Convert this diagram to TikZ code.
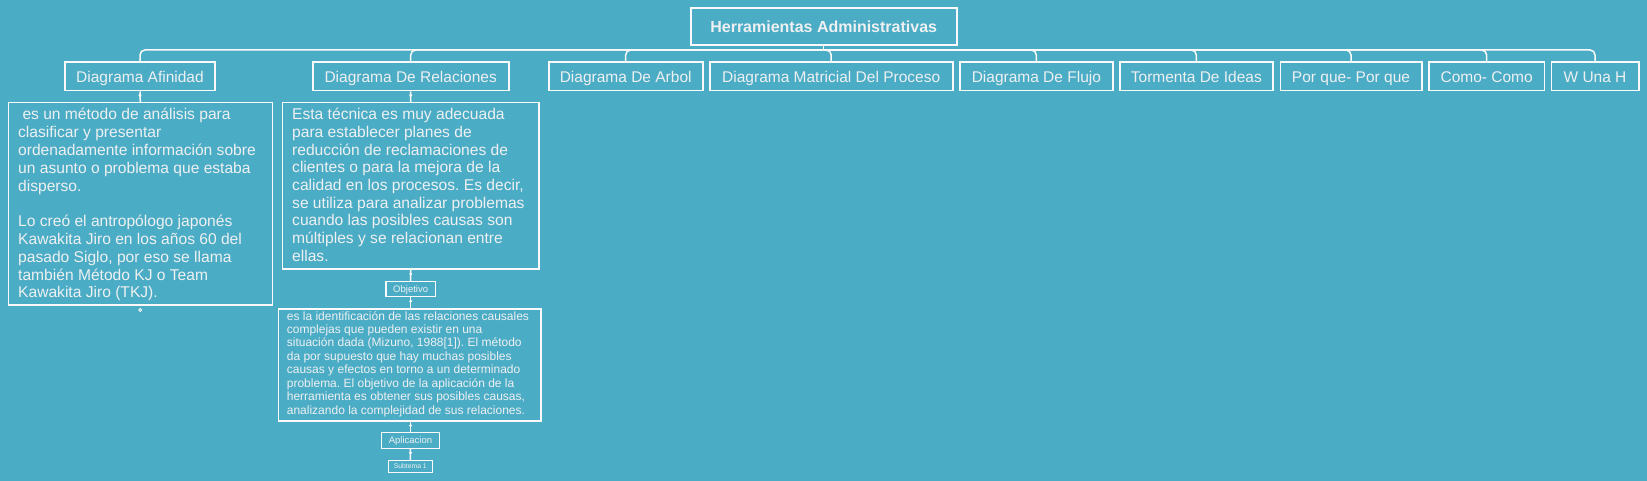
\documentclass[tikz,border=0pt]{standalone}
\usepackage{fontspec}
\setmainfont{Liberation Sans}
\frenchspacing
\definecolor{bg}{RGB}{75,172,198}
\definecolor{fg}{RGB}{238,240,241}
\definecolor{ln}{RGB}{250,250,250}
\begin{document}
\begin{tikzpicture}[x=1pt,y=-1pt,
  frame/.style={draw=ln, line width=1.6pt, inner sep=0pt, text=fg},
  lbl/.style={frame, font=\fontsize{15.5}{17}\selectfont, text height=11.1pt, text depth=0pt, minimum height=28.4pt},
  small/.style={frame, line width=1.4pt, font=\fontsize{9.5}{11}\selectfont, text height=6.8pt, text depth=0pt},
  conn/.style={draw=ln, line width=1.5pt},
  bus/.style={conn, rounded corners=5pt},
  txt/.style={text=fg, inner sep=0pt, anchor=base west},
  dotc/.style={fill=ln}
]
\fill[bg] (0,0) rectangle (1647,481);
\useasboundingbox (0,0) rectangle (1647,481);

% title
\node[frame, font=\bfseries\fontsize{16}{18}\selectfont, text height=11.5pt, text depth=0pt,
      minimum width=266pt, minimum height=36.7pt] (title) at (823.7,26.65) {Herramientas Administrativas};
\coordinate (busc) at (823.7,50);

% level 1
\node[lbl, minimum width=150pt]   (af)    at (140,76.5)    {Diagrama Afinidad};
\node[lbl, minimum width=196pt]   (rel)   at (410.7,76.5)  {Diagrama De Relaciones};
\node[lbl, minimum width=154pt]   (arbol) at (625.7,76.5)  {Diagrama De Arbol};
\node[lbl, minimum width=243pt]   (mat)   at (831.2,76.5)  {Diagrama Matricial Del Proceso};
\node[lbl, minimum width=152.7pt] (flujo) at (1036.35,76.5) {Diagrama De Flujo};
\node[lbl, minimum width=152.7pt] (torm)  at (1196.35,76.5) {Tormenta De Ideas};
\node[lbl, minimum width=141.4pt] (porq)  at (1351,76.5)   {Por que- Por que};
\node[lbl, minimum width=115.3pt] (como)  at (1486.65,76.5) {Como- Como};
\node[lbl, minimum width=87.4pt]  (wuna)  at (1595,76.5)   {W Una H};

\draw[conn] (title.south) -- (busc);
\foreach \n in {af,rel,arbol,mat,flujo,torm,porq,como,wuna}{
  \draw[bus] (busc) -| (\n.north);
}

% text boxes
\node[frame, minimum width=264pt, minimum height=202.3pt] (afbox) at (140.3,203.85) {};
\node[txt] (aftext) at (18,120) {\parbox[t]{300pt}{\fontsize{15.6}{17.8}\selectfont
\hspace*{4.3pt}es un método de análisis para\\
clasificar y presentar\\
ordenadamente información sobre\\
un asunto o problema que estaba\\
disperso.\\[17.8pt]
Lo creó el antropólogo japonés\\
Kawakita Jiro en los años 60 del\\
pasado Siglo, por eso se llama\\
también Método KJ o Team\\
Kawakita Jiro (TKJ).}};

\node[frame, minimum width=256.5pt, minimum height=166.6pt] (relbox) at (410.75,186) {};
\node[txt] (reltext) at (292,120) {\parbox[t]{300pt}{\fontsize{15.6}{17.65}\selectfont
Esta técnica es muy adecuada\\
para establecer planes de\\
reducción de reclamaciones de\\
clientes o para la mejora de la\\
calidad en los procesos. Es decir,\\
se utiliza para analizar problemas\\
cuando las posibles causas son\\
múltiples y se relacionan entre\\
ellas.}};

\node[small, minimum width=49.3pt, minimum height=15pt] (obj) at (410.65,289.2) {Objetivo};

\node[frame, minimum width=262.4pt, minimum height=112pt] (bigbox) at (409.5,365) {};
\node[txt] (bigtext) at (286.7,320) {\parbox[t]{300pt}{\fontsize{12}{13.47}\selectfont
es la identificación de las relaciones causales\\
complejas que pueden existir en una\\
situación dada (Mizuno, 1988[1]). El método\\
da por supuesto que hay muchas posibles\\
causas y efectos en torno a un determinado\\
problema. El objetivo de la aplicación de la\\
herramienta es obtener sus posibles causas,\\
analizando la complejidad de sus relaciones.}};

\node[small, minimum width=57.6pt, minimum height=15.6pt] (apl) at (410.5,440.5) {Aplicacion};
\node[small, line width=1.2pt, font=\fontsize{6.8}{8}\selectfont, text height=4.9pt,
      minimum width=44pt, minimum height=11.6pt] (sub) at (410.3,466.5) {Subtema 1};

% connectors with dots
\draw[conn] (af.south) -- (afbox.north);
\fill[dotc] ([yshift=-3.8pt]af.south) circle (1.6pt);
\draw[conn] (rel.south) -- (relbox.north);
\fill[dotc] ([yshift=-3.8pt]rel.south) circle (1.6pt);
\draw[conn] (relbox.south) -- (obj.north);
\fill[dotc] ([yshift=-3.8pt]relbox.south) circle (1.6pt);
\draw[conn] (obj.south) -- (obj.south |- bigbox.north);
\fill[dotc] ([yshift=-3.8pt]obj.south) circle (1.6pt);
\draw[conn] (bigbox.south -| apl.north) -- (apl.north);
\fill[dotc] ([yshift=-3.8pt]bigbox.south -| apl.north) circle (1.6pt);
\draw[conn] (apl.south) -- (sub.north);
\fill[dotc] ([yshift=-3.8pt]apl.south) circle (1.6pt);

% small ring below the first text box
\draw[ln, line width=0.8pt] ([yshift=-4.2pt]afbox.south) circle (1.5pt);
\end{tikzpicture}
\end{document}
